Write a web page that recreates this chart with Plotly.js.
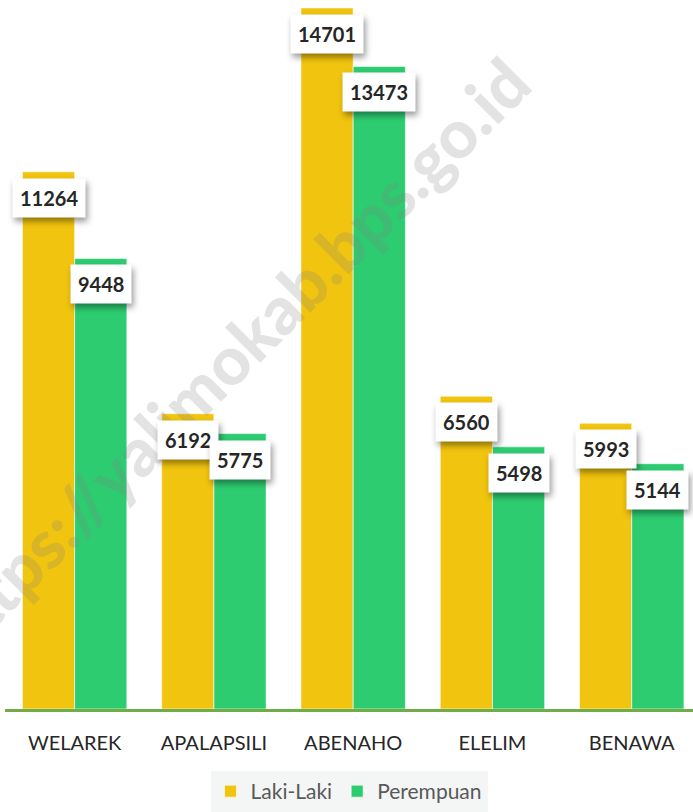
<!DOCTYPE html>
<html>
<head>
<meta charset="utf-8">
<script src="https://cdn.plot.ly/plotly-3.0.1.min.js"></script>
<style>
html,body{margin:0;padding:0;background:#fff;}
#chart{width:693px;height:812px;}
.annotation rect.bg{filter: drop-shadow(2px 4px 3px rgba(0,0,0,0.4));}
</style>
</head>
<body>
<div id="chart"></div>
<script>
const categories = ['WELAREK', 'APALAPSILI', 'ABENAHO', 'ELELIM', 'BENAWA'];
const lakiLaki = [11264, 6192, 14701, 6560, 5993];
const perempuan = [9448, 5775, 13473, 5498, 5144];
const seriesNames = ['Laki-Laki', 'Perempuan'];
const seriesColors = ['#F1C40F', '#2ECC71'];
const watermarkText = 'https://yalimokab.bps.go.id';

const bargap = 0.25;
const half = (1 - bargap) / 4; // offset of each bar center from category center

const traces = [lakiLaki, perempuan].map((vals, s) => ({
  type: 'bar',
  name: seriesNames[s],
  x: categories,
  y: vals,
  marker: {color: seriesColors[s], line: {color: 'rgba(255,255,255,0.6)', width: 1}},
  hoverinfo: 'skip'
}));

const annotations = [{
  xref: 'paper', yref: 'paper', x: (230 - 5) / 688, y: (709 - 356) / 709,
  text: watermarkText, showarrow: false, textangle: -45,
  font: {family: 'Lato', size: 67, color: 'rgba(128,128,128,0.22)', weight: 900},
  xanchor: 'center', yanchor: 'middle'
}];
[lakiLaki, perempuan].forEach((vals, s) => {
  vals.forEach((v, i) => {
    annotations.push({
      xref: 'x', yref: 'y', x: i + (s === 0 ? -half : half), y: v,
      yshift: -26, text: '<b>' + v + '</b>', showarrow: false,
      xanchor: 'center', yanchor: 'middle',
      bgcolor: '#ffffff', borderpad: 7,
      font: {family: 'Lato', size: 20, color: '#262626'}
    });
  });
});

const layout = {
  width: 693, height: 812,
  margin: {l: 5, r: 0, t: 0, b: 103},
  paper_bgcolor: '#ffffff', plot_bgcolor: '#ffffff',
  barmode: 'group', bargap: bargap, bargroupgap: 0,
  showlegend: true,
  legend: {orientation: 'h', x: 0.5, xanchor: 'center', y: -0.088, yanchor: 'top',
    bgcolor: '#f4f6f5',
    font: {family: 'Lato', size: 21, color: '#595959'},
    itemclick: false, traceorder: 'normal'},
  xaxis: {
    type: 'category', range: [-0.5, 4.44],
    showline: true, linecolor: '#70AD47', linewidth: 2.5,
    showgrid: false, zeroline: false, ticks: '',
    ticklabelstandoff: 14,
    tickfont: {family: 'Lato', size: 20, color: '#262626'}
  },
  yaxis: {
    range: [0, 14867], visible: false, showgrid: false, zeroline: false
  },
  annotations: annotations
};

Plotly.newPlot('chart', traces, layout, {displayModeBar: false, staticPlot: true});
</script>
</body>
</html>
